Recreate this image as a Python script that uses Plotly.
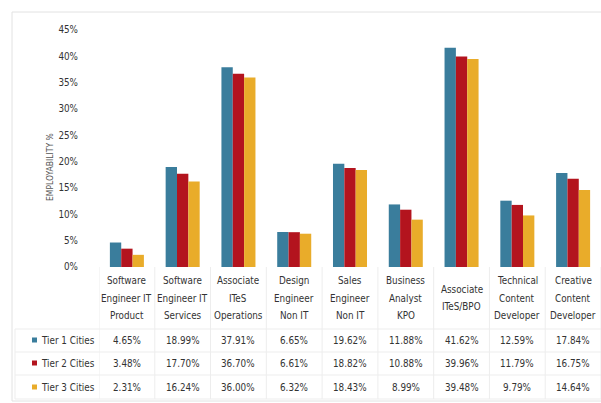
import plotly.graph_objects as go

categories = [
    "Software<br>Engineer IT<br>Product",
    "Software<br>Engineer IT<br>Services",
    "Associate<br>ITeS<br>Operations",
    "Design<br>Engineer<br>Non IT",
    "Sales<br>Engineer<br>Non IT",
    "Business<br>Analyst<br>KPO",
    "Associate<br>ITeS/BPO",
    "Technical<br>Content<br>Developer",
    "Creative<br>Content<br>Developer",
]
series_names = ["Tier 1 Cities", "Tier 2 Cities", "Tier 3 Cities"]
tier1 = [4.65, 18.99, 37.91, 6.65, 19.62, 11.88, 41.62, 12.59, 17.84]
tier2 = [3.48, 17.70, 36.70, 6.61, 18.82, 10.88, 39.96, 11.79, 16.75]
tier3 = [2.31, 16.24, 36.00, 6.32, 18.43, 8.99, 39.48, 9.79, 14.64]
y_ticks = [0, 5, 10, 15, 20, 25, 30, 35, 40, 45]
y_title = "EMPLOYABILITY %"

colors = ["#3A7D9C", "#B3141E", "#E9AC2A"]
series = [tier1, tier2, tier3]

W, H = 601, 403
L, R, T, B = 99, 0, 30, 136
plot_w = W - L - R
plot_h = H - T - B
FONT = "Liberation Sans Narrow, Arial Narrow, DejaVu Sans Condensed, sans-serif"
TXT = "#333333"
LINE = "#ededed"

def px_x(px):
    return (px - L) / plot_w

def px_y(py):
    return (H - B - py) / plot_h

ids = list(range(len(categories)))

fig = go.Figure()
for name, vals, col in zip(series_names, series, colors):
    fig.add_trace(go.Bar(x=ids, y=vals, name=name, marker=dict(color=col, line=dict(width=0)),
                         showlegend=False))

annotations = []
shapes = []

# y axis title
annotations.append(dict(text=y_title, x=px_x(50), y=px_y(167), xref="paper", yref="paper",
                        textangle=-90, showarrow=False, xanchor="center", yanchor="middle",
                        font=dict(family=FONT, size=8.5, color="#555555")))

# category labels (line by line)
line_gap = 17.5
for i, cat in enumerate(categories):
    lines = cat.split("<br>")
    n = len(lines)
    center = 298
    for k, ln in enumerate(lines):
        py = center + (k - (n - 1) / 2) * line_gap
        annotations.append(dict(text=ln, x=i, y=px_y(py), xref="x", yref="paper",
                                showarrow=False, xanchor="center", yanchor="middle",
                                font=dict(family=FONT, size=9.8, color=TXT)))

# table rows
row_y = [340, 363, 387]
for r, (name, vals, col) in enumerate(zip(series_names, series, colors)):
    py = row_y[r]
    shapes.append(dict(type="rect", xref="paper", yref="paper",
                       x0=px_x(32), x1=px_x(37), y0=px_y(py + 2.5), y1=px_y(py - 2.5),
                       fillcolor=col, line=dict(width=0)))
    annotations.append(dict(text=name, x=px_x(39), y=px_y(py), xref="paper", yref="paper",
                            showarrow=False, xanchor="left", yanchor="middle",
                            font=dict(family=FONT, size=9.8, color=TXT)))
    for i, v in enumerate(vals):
        annotations.append(dict(text=f"{v:.2f}%", x=i, y=px_y(py), xref="x", yref="paper",
                                showarrow=False, xanchor="center", yanchor="middle",
                                font=dict(family=FONT, size=9.8, color=TXT)))

# table grid lines
for py in [329, 352, 375, 399]:
    shapes.append(dict(type="line", xref="paper", yref="paper", x0=px_x(15), x1=1,
                       y0=px_y(py), y1=px_y(py), line=dict(color=LINE, width=1)))
for i in range(len(categories) + 1):
    shapes.append(dict(type="line", xref="x", yref="paper", x0=i - 0.5, x1=i - 0.5,
                       y0=px_y(267), y1=px_y(399), line=dict(color=LINE, width=1)))
shapes.append(dict(type="line", xref="paper", yref="paper", x0=px_x(15), x1=px_x(15),
                   y0=px_y(329), y1=px_y(399), line=dict(color=LINE, width=1)))

# outer chart border
shapes.append(dict(type="rect", xref="paper", yref="paper", x0=px_x(12), x1=px_x(W + 5),
                   y0=px_y(401), y1=px_y(12), line=dict(color="#e2e2e2", width=1),
                   fillcolor="rgba(0,0,0,0)"))

fig.update_layout(
    width=W, height=H,
    margin=dict(l=L, r=R, t=T, b=B, pad=0),
    paper_bgcolor="white", plot_bgcolor="white",
    barmode="group", bargap=0.39, bargroupgap=0,
    xaxis=dict(range=[-0.5, len(categories) - 0.5], showticklabels=False, showgrid=False,
               zeroline=False, showline=False, ticks=""),
    yaxis=dict(range=[0, 45], tickvals=y_ticks, ticktext=[f"{t}%" for t in y_ticks],
               showgrid=False, zeroline=False, showline=False, ticks="",
               ticklabelstandoff=20,
               tickfont=dict(family=FONT, size=9.8, color=TXT)),
    annotations=annotations,
    shapes=shapes,
    showlegend=False,
)

fig.write_html("out.html")
